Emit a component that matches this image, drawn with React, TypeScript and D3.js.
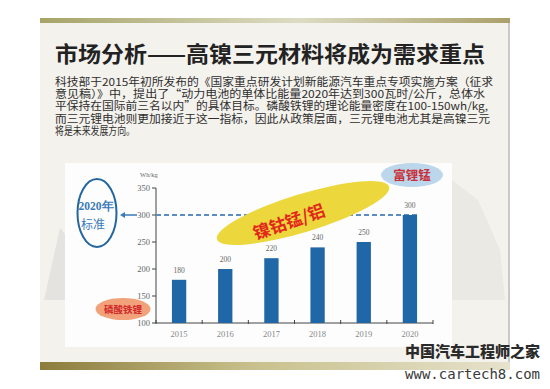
import * as d3 from 'd3';

const years = ['2015', '2016', '2017', '2018', '2019', '2020'];
const energy = [180, 200, 220, 240, 250, 300];
const yTicks = [100, 150, 200, 250, 300, 350];
const target = 300;

const title = '市场分析——高镍三元材料将成为需求重点';
const paragraph = [
  '科技部于2015年初所发布的《国家重点研发计划新能源汽车重点专项实施方案（征求',
  '意见稿）》中，提出了“动力电池的单体比能量2020年达到300瓦时/公斤，总体水',
  '平保持在国际前三名以内”的具体目标。磷酸铁锂的理论能量密度在100-150wh/kg,',
  '而三元锂电池则更加接近于这一指标，因此从政策层面，三元锂电池尤其是高镍三元',
  '将是未来发展方向。',
];
const paraWidths = [438, 430, 433, 435, 80];

const W = 550;
const H = 389;
const cjk = '"Noto Sans CJK SC", sans-serif';
const serif = '"Liberation Serif", "DejaVu Serif", serif';

export default function App() {
  const x = d3.scaleBand<string>().domain(years).range([156, 433]).paddingInner(0.69).paddingOuter(0.345);
  const y = d3.scaleLinear().domain([100, 350]).range([323, 188]);
  const bounds = d3.range(years.length + 1).map((i) => 156 + i * x.step());
  const lastX = (x('2020') ?? 0) + x.bandwidth();

  return (
    <svg width={W} height={H} style={{ position: 'absolute', left: 0, top: 0, background: '#fff' }}>
      <defs>
        <linearGradient id="topbar" x1="0" x2="1" y1="0" y2="0">
          <stop offset="0%" stopColor="#a6a468" />
          <stop offset="55%" stopColor="#dcdcc4" />
          <stop offset="100%" stopColor="#aaa06a" />
        </linearGradient>
        <linearGradient id="botbar" x1="0" x2="1" y1="0" y2="0">
          <stop offset="0%" stopColor="#8c7c3c" />
          <stop offset="45%" stopColor="#c8c08c" />
          <stop offset="100%" stopColor="#e6e2cc" />
        </linearGradient>
      </defs>

      {/* slide */}
      <rect x={40} y={18} width={470} height={352} fill="#f4f2ed" />
      <polygon points="44,300 60,228 66,235 66,300" fill="#d9d7d3" opacity={0.55} />
      <polygon points="452,180 478,200 500,250 505,300 452,300" fill="#e4e2de" opacity={0.6} />
      <line x1={509} x2={509} y1={18} y2={370} stroke="#c9c9c9" strokeWidth={2} />
      <rect x={40} y={18} width={470} height={5} fill="url(#topbar)" />
      <rect x={40} y={362} width={470} height={8} fill="url(#botbar)" />

      <text x={55} y={62} fontFamily={cjk} fontWeight={700} fontSize={21.5} fill="#222"
        textLength={430} lengthAdjust="spacingAndGlyphs">{title}</text>

      {paragraph.map((line, i) => (
        <text key={i} x={55} y={86 + i * 12.2} fontFamily={cjk} fontSize={10.8} fill="#2e2e2e"
          textLength={paraWidths[i]} lengthAdjust="spacingAndGlyphs">{line}</text>
      ))}

      {/* chart panel */}
      <rect x={65} y={163} width={387} height={184} fill="#fdfdfd" />

      <text x={140} y={177} fontFamily={serif} fontSize={6.5} fill="#666">Wh/kg</text>

      {/* y axis */}
      <line x1={156} x2={156} y1={y(350)} y2={y(100)} stroke="#444" />
      {yTicks.map((t) => (
        <g key={t}>
          <line x1={152} x2={156} y1={y(t)} y2={y(t)} stroke="#444" />
          <text x={150} y={y(t) + 3} textAnchor="end" fontFamily={serif} fontSize={8.5} fill="#666">{t}</text>
        </g>
      ))}

      {/* x axis */}
      <line x1={156} x2={433} y1={y(100)} y2={y(100)} stroke="#444" />
      {bounds.map((b, i) => (
        <line key={i} x1={b} x2={b} y1={y(100) - 3} y2={y(100) + 1} stroke="#444" />
      ))}
      {years.map((yr) => (
        <text key={yr} x={(x(yr) ?? 0) + x.bandwidth() / 2} y={337} textAnchor="middle"
          fontFamily={serif} fontSize={8.5} fill="#888">{yr}</text>
      ))}

      {/* target line */}
      <line x1={156} x2={lastX} y1={y(target)} y2={y(target)} stroke="#5b8cc2" strokeWidth={2} strokeDasharray="5,3" />

      {/* bars */}
      {years.map((yr, i) => (
        <g key={yr}>
          <rect x={x(yr)} y={y(energy[i])} width={x.bandwidth()} height={y(100) - y(energy[i])} fill="#1f67a6" />
          <text x={(x(yr) ?? 0) + x.bandwidth() / 2} y={y(energy[i]) - 7} textAnchor="middle"
            fontFamily={serif} fontSize={7.5} fill="#666">{energy[i]}</text>
        </g>
      ))}

      {/* annotations */}
      <ellipse cx={303} cy={213} rx={90} ry={19} fill="#ecd83c" transform="rotate(-17 303 213)" />
      <text x={289} y={228} textAnchor="middle" fontFamily={cjk} fontWeight={700} fontSize={17}
        fill="#e2261c" transform="rotate(-19 289 222)">镍钴锰/铝</text>

      <ellipse cx={412} cy={175} rx={31} ry={12} fill="#bcd6ec" />
      <text x={412} y={179.5} textAnchor="middle" fontFamily={cjk} fontWeight={700} fontSize={12.5} fill="#c8303a">富锂锰</text>

      <ellipse cx={123} cy={309} rx={27.5} ry={11} fill="#f2a27a" />
      <text x={123} y={312.5} textAnchor="middle" fontFamily={cjk} fontWeight={700} fontSize={9.5} fill="#d0282a">磷酸铁锂</text>

      <ellipse cx={97} cy={213} rx={19.5} ry={34} fill="none" stroke="#23679e" strokeWidth={2} />
      <text x={96} y={210} textAnchor="middle" fontFamily={serif} fontWeight={700} fontSize={11.5} fill="#3a7ab8">2020年</text>
      <text x={93} y={229} textAnchor="middle" fontFamily={cjk} fontSize={12} fill="#3a7ab8">标准</text>
      <line x1={123} x2={137} y1={y(target)} y2={y(target)} stroke="#3a7ab8" strokeWidth={1.5} />
      <path d={`M120,${y(target)} l5,-3 l0,6 z`} fill="#3a7ab8" />

      {/* watermark */}
      <text x={405} y={357} fontFamily={cjk} fontWeight={900} fontSize={15} fill="#2a2a2a"
        textLength={135} lengthAdjust="spacingAndGlyphs">中国汽车工程师之家</text>
      <text x={405} y={379} fontFamily={'"DejaVu Sans Mono", monospace'} fontSize={14} fill="#3a3a3a"
        textLength={135} lengthAdjust="spacingAndGlyphs">www.cartech8.com</text>
    </svg>
  );
}
